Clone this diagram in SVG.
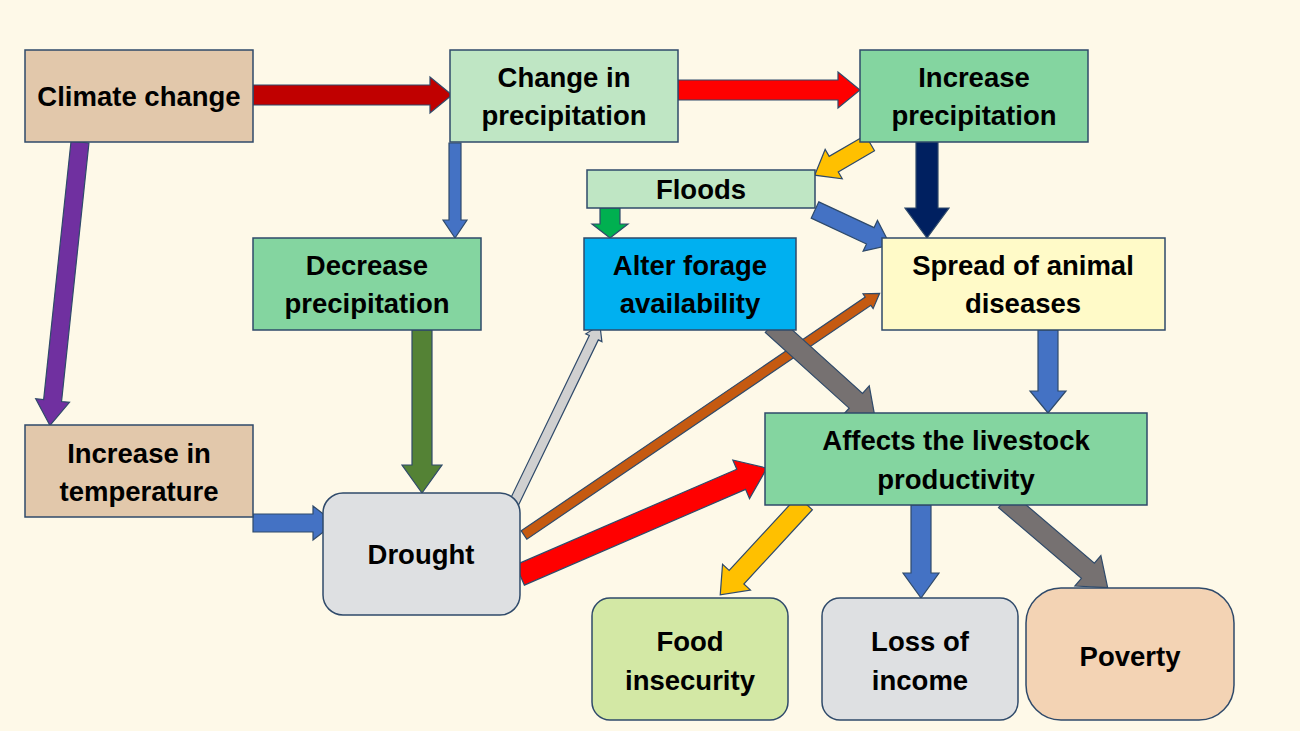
<svg xmlns="http://www.w3.org/2000/svg" width="1300" height="731" viewBox="0 0 1300 731">
<style>
.n{stroke:#2f4a6a;stroke-width:1.5}
.t{font-family:"Liberation Sans",Arial,sans-serif;font-weight:bold;font-size:27.5px;fill:#000;text-anchor:middle}
.a{stroke:#2f4a6a;stroke-width:1.2}
</style>
<rect width="1300" height="731" fill="#fef9e8"/>
<g id="connectors">
<path class="a" fill="#c00000" transform="translate(253,95)" d="M0,-10L177,-10L177,-18L199,0L177,18L177,10L0,10Z"/>
<path class="a" fill="#ff0000" transform="translate(678,90)" d="M0,-10L160,-10L160,-18L182,0L160,18L160,10L0,10Z"/>
<path class="a" fill="#7030a0" transform="translate(80,142) rotate(96.05)" d="M0,-9L260,-9L260,-17L285,0L260,17L260,9L0,9Z"/>
<path class="a" fill="#4472c4" transform="translate(455,143) rotate(90)" d="M0,-6L77,-6L77,-12L95,0L77,12L77,6L0,6Z"/>
<path class="a" fill="#ffc000" transform="translate(870,143) rotate(149.8)" d="M0,-9L42,-9L42,-17L64,0L42,17L42,9L0,9Z"/>
<path class="a" fill="#002060" transform="translate(927,140) rotate(90)" d="M0,-11L68,-11L68,-22L98,0L68,22L68,11L0,11Z"/>
<path class="a" fill="#4472c4" transform="translate(815,210) rotate(25)" d="M0,-9L61,-9L61,-17L83,0L61,17L61,9L0,9Z"/>
<path class="a" fill="#00b050" transform="translate(610,208) rotate(90)" d="M0,-10L16,-10L16,-18L30,0L16,18L16,10L0,10Z"/>
<path class="a" fill="#548235" transform="translate(422,330) rotate(90)" d="M0,-10L135,-10L135,-20L163,0L135,20L135,10L0,10Z"/>
<path class="a" fill="#4472c4" transform="translate(253,523)" d="M0,-9L60,-9L60,-17L82,0L60,17L60,9L0,9Z"/>
<path class="a" fill="#d0d0d0" transform="translate(512,507) rotate(-64.2)" d="M0,-5L188,-5L188,-9L202,0L188,9L188,5L0,5Z"/>
<path class="a" fill="#c55a11" transform="translate(524,535) rotate(-34.2)" d="M0,-5L416,-5L416,-9L430,0L416,9L416,5L0,5Z"/>
<path class="a" fill="#ff0000" transform="translate(520,575) rotate(-23.4)" d="M0,-11L241,-11L241,-21L269,0L241,21L241,11L0,11Z"/>
<path class="a" fill="#767171" transform="translate(772,325) rotate(42.1)" d="M0,-10L113,-10L113,-20L139,0L113,20L113,10L0,10Z"/>
<path class="a" fill="#4472c4" transform="translate(1048,330) rotate(90)" d="M0,-10L61,-10L61,-18L83,0L61,18L61,10L0,10Z"/>
<path class="a" fill="#ffc000" transform="translate(805,503) rotate(132.7)" d="M0,-10L101,-10L101,-19L125,0L101,19L101,10L0,10Z"/>
<path class="a" fill="#4472c4" transform="translate(921,505) rotate(90)" d="M0,-10L68,-10L68,-18L93,0L68,18L68,10L0,10Z"/>
<path class="a" fill="#767171" transform="translate(1005,500) rotate(40.5)" d="M0,-10L109,-10L109,-20L135,0L109,20L109,10L0,10Z"/>
</g>
<g id="climate"><rect class="n" x="25" y="50" width="228" height="92" fill="#e2c8ab"/><text class="t" x="139" y="106">Climate change</text></g>
<g id="changeprecip"><rect class="n" x="450" y="50" width="228" height="92" fill="#bfe6c4"/><text class="t" x="564" y="87">Change in</text><text class="t" x="564" y="125">precipitation</text></g>
<g id="incprecip"><rect class="n" x="860" y="50" width="228" height="92" fill="#84d5a0"/><text class="t" x="974" y="87">Increase</text><text class="t" x="974" y="125">precipitation</text></g>
<g id="floods"><rect class="n" x="587" y="170" width="228" height="38" fill="#bfe6c4"/><text class="t" x="701" y="199">Floods</text></g>
<g id="alter"><rect class="n" x="584" y="238" width="212" height="92" fill="#00b0f0"/><text class="t" x="690" y="275">Alter forage</text><text class="t" x="690" y="313">availability</text></g>
<g id="spread"><rect class="n" x="882" y="238" width="283" height="92" fill="#fffac8"/><text class="t" x="1023" y="275">Spread of animal</text><text class="t" x="1023" y="313">diseases</text></g>
<g id="decprecip"><rect class="n" x="253" y="238" width="228" height="92" fill="#84d5a0"/><text class="t" x="367" y="275">Decrease</text><text class="t" x="367" y="313">precipitation</text></g>
<g id="inctemp"><rect class="n" x="25" y="425" width="228" height="92" fill="#e2c8ab"/><text class="t" x="139" y="463">Increase in</text><text class="t" x="139" y="501">temperature</text></g>
<g id="drought"><rect class="n" x="323" y="493" width="197" height="122" rx="20" fill="#dee0e2"/><text class="t" x="421" y="564">Drought</text></g>
<g id="affects"><rect class="n" x="765" y="413" width="382" height="92" fill="#84d5a0"/><text class="t" x="956" y="450">Affects the livestock</text><text class="t" x="956" y="489">productivity</text></g>
<g id="food"><rect class="n" x="592" y="598" width="196" height="122" rx="18" fill="#d3e8a5"/><text class="t" x="690" y="651">Food</text><text class="t" x="690" y="690">insecurity</text></g>
<g id="loss"><rect class="n" x="822" y="598" width="196" height="122" rx="18" fill="#dee0e2"/><text class="t" x="920" y="651">Loss of</text><text class="t" x="920" y="690">income</text></g>
<g id="poverty"><rect class="n" x="1026" y="588" width="208" height="132" rx="35" fill="#f3d3b4"/><text class="t" x="1130" y="666">Poverty</text></g>
</svg>
